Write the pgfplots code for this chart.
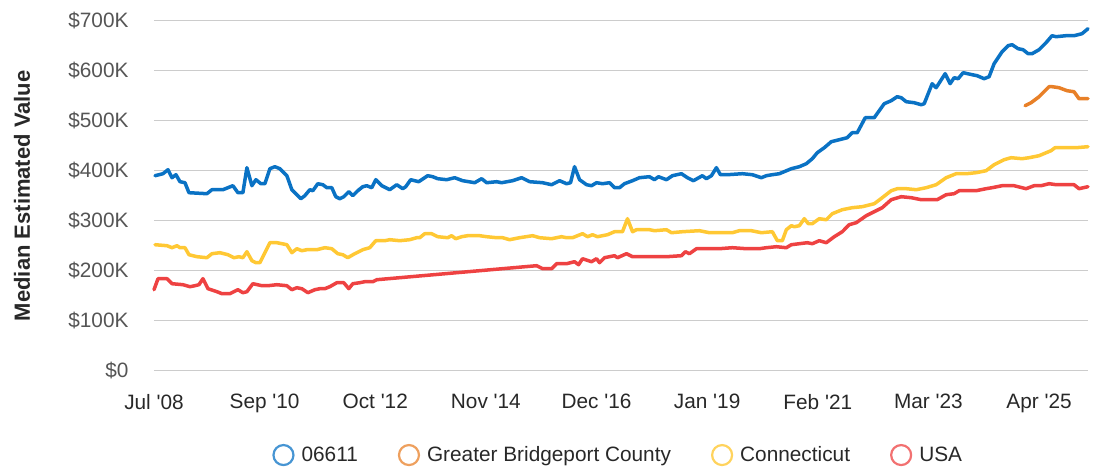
\documentclass[border=0pt]{standalone}
\usepackage{pgfplots}
\pgfplotsset{compat=1.18}
\usepackage{fontspec}
\setmainfont{Liberation Sans}
\definecolor{cblue}{RGB}{10,114,196}
\definecolor{corange}{RGB}{232,128,40}
\definecolor{cyellow}{RGB}{255,200,52}
\definecolor{cred}{RGB}{238,66,66}
\definecolor{ticktext}{RGB}{85,85,85}
\definecolor{darktext}{RGB}{40,40,40}
\definecolor{gridc}{RGB}{204,204,204}
\begin{document}
\begin{tikzpicture}
\useasboundingbox (0,0) rectangle (1097pt,467pt);
\begin{axis}[
  at={(154pt,96.3pt)}, anchor=south west,
  scale only axis, width=934pt, height=350pt,
  xmin=154, xmax=1089, ymin=0, ymax=700,
  clip=false,
  axis line style={draw=none},
  tick style={draw=none},
  ymajorgrids, grid style={draw=gridc, line width=1.2pt},
  ytick={0,100,200,300,400,500,600,700},
  yticklabels={\$0,\$100K,\$200K,\$300K,\$400K,\$500K,\$600K,\$700K},
  xtick={154,264.75,375.5,486.25,597,707.75,818.5,929.25,1040},
  xticklabels={Jul \textquotesingle08,Sep \textquotesingle10,Oct \textquotesingle12,Nov \textquotesingle14,Dec \textquotesingle16,Jan \textquotesingle19,Feb \textquotesingle21,Mar \textquotesingle23,Apr \textquotesingle25},
  yticklabel style={font=\fontsize{20.8}{23}\selectfont, text=ticktext, anchor=east, xshift=-22pt},
  xticklabel style={font=\fontsize{20.8}{23}\selectfont, text=darktext, anchor=north, yshift=-20pt},
  ylabel={Median Estimated Value},
  ylabel style={font=\bfseries\fontsize{22}{25}\selectfont, text=darktext, at={(axis description cs:-0.1413,0.5)}, anchor=center},
  legend columns=4,
  legend style={at={(axis description cs:0.497,-0.241)}, anchor=center, draw=none, fill=none,
    font=\fontsize{20.8}{23}\selectfont, text=darktext,
    /tikz/every odd column/.append style={column sep=5pt},
    /tikz/every even column/.append style={column sep=38pt}},
  legend image code/.code={\draw[#1, fill=none, line width=2.2pt] (10pt,0pt) circle (10pt);},
  every axis plot/.append style={line width=3.5pt, line join=round, line cap=round, mark=none},
]
\addplot[cblue, forget plot] coordinates {
(155,390)(163,394)(168,402)(172,386)(176,392)(180,378)(185,376)(189,356)(207,354)(212,362)(223,362)(233,370)(238,356)(243,356)(247,406)(252,370)(256,382)(261,374)(265,374)(270,404)(275,408)(280,404)(287,390)(292,362)(295,356)(301,344)(305,350)(310,362)(313,360)(318,374)(323,372)(327,366)(332,366)(336,348)(340,344)(344,348)(349,358)(353,350)(358,360)(363,368)(367,370)(372,366)(376,382)(382,370)(390,362)(397,372)(403,364)(406,368)(411,382)(419,378)(428,390)(433,388)(438,384)(447,382)(455,386)(463,380)(475,376)(482,384)(487,376)(497,378)(502,376)(513,380)(522,386)(530,378)(543,376)(552,372)(560,380)(567,374)(571,376)(575,408)(580,382)(587,372)(592,370)(597,376)(603,374)(610,376)(615,366)(620,366)(625,374)(633,380)(640,386)(650,388)(655,382)(659,388)(667,382)(673,390)(682,394)(688,386)(694,380)(703,390)(707,384)(712,390)(717,406)(721,392)(728,392)(743,394)(753,392)(762,386)(767,390)(773,392)(780,394)(792,404)(800,408)(807,414)(813,424)(818,436)(825,446)(832,458)(840,462)(848,466)(853,476)(858,476)(866,506)(870,506)(875,506)(885,534)(892,540)(898,548)(902,546)(907,538)(915,536)(922,532)(925,534)(933,574)(937,566)(946,594)(951,574)(955,586)(959,584)(964,596)(973,592)(978,590)(985,584)(990,588)(995,614)(1003,638)(1009,650)(1013,652)(1019,644)(1024,642)(1029,634)(1033,634)(1040,642)(1047,656)(1053,670)(1057,668)(1067,670)(1075,670)(1083,674)(1089,684)
};
\addplot[cyellow, forget plot] coordinates {
(155,252)(167,250)(172,246)(177,250)(180,246)(185,246)(189,232)(197,228)(207,226)(212,234)(220,236)(228,232)(234,226)(239,228)(243,226)(247,238)(252,220)(256,216)(260,216)(265,236)(270,256)(277,256)(287,252)(292,236)(297,244)(302,240)(307,242)(317,242)(325,246)(332,244)(338,234)(343,232)(348,226)(355,234)(363,242)(370,246)(376,260)(385,260)(390,262)(400,260)(410,262)(417,266)(420,266)(425,274)(432,274)(438,268)(448,266)(452,270)(456,264)(462,268)(468,270)(480,270)(487,268)(497,266)(503,266)(510,262)(520,266)(533,270)(540,266)(552,264)(562,268)(567,266)(573,266)(583,274)(588,268)(593,272)(598,268)(608,272)(615,278)(623,278)(628,304)(633,278)(637,282)(650,282)(655,280)(667,282)(672,276)(683,278)(700,280)(710,276)(720,276)(733,276)(740,280)(752,280)(762,276)(773,278)(778,260)(783,260)(787,282)(792,290)(795,288)(800,290)(805,304)(809,294)(813,294)(820,304)(827,302)(833,314)(843,322)(853,326)(863,328)(875,334)(883,346)(892,360)(898,364)(907,364)(917,362)(927,366)(937,372)(947,386)(957,394)(967,394)(977,396)(987,400)(995,412)(1005,422)(1012,426)(1023,424)(1030,426)(1040,430)(1052,440)(1056,446)(1070,446)(1077,446)(1089,448)
};
\addplot[cred, forget plot] coordinates {
(154,162)(158,184)(167,184)(172,174)(183,172)(190,168)(195,170)(199,172)(203,184)(208,164)(217,158)(222,154)(230,154)(238,162)(243,156)(247,158)(253,174)(262,170)(268,170)(277,172)(287,170)(292,162)(297,166)(302,164)(308,156)(315,162)(320,164)(325,164)(330,168)(337,176)(344,176)(349,164)(353,174)(360,176)(365,178)(373,178)(377,182)(537,210)(543,204)(552,204)(557,214)(567,214)(575,218)(579,212)(583,224)(592,218)(597,224)(600,216)(605,226)(615,230)(618,226)(627,234)(633,228)(650,228)(667,228)(682,230)(686,238)(690,234)(697,244)(707,244)(720,244)(733,246)(747,244)(760,244)(767,246)(777,248)(787,246)(792,252)(800,254)(808,256)(813,254)(820,260)(827,256)(835,268)(843,278)(850,292)(857,296)(867,310)(875,318)(883,326)(892,342)(902,348)(912,346)(922,342)(930,342)(938,342)(947,352)(955,354)(960,360)(977,360)(987,364)(993,366)(1003,370)(1015,370)(1027,364)(1035,370)(1042,370)(1050,374)(1057,372)(1067,372)(1075,372)(1080,364)(1089,368)
};
\addplot[corange, forget plot] coordinates {
(1026,530)(1032,536)(1040,548)(1050,568)(1053,568)(1060,566)(1068,560)(1075,558)(1080,544)(1089,544)
};
\addlegendimage{draw=cblue!75!white}
\addlegendentry{06611}
\addlegendimage{draw=corange!75!white}
\addlegendentry{Greater Bridgeport County}
\addlegendimage{draw=cyellow!80!white}
\addlegendentry{Connecticut}
\addlegendimage{draw=cred!75!white}
\addlegendentry{USA}
\end{axis}
\end{tikzpicture}
\end{document}
